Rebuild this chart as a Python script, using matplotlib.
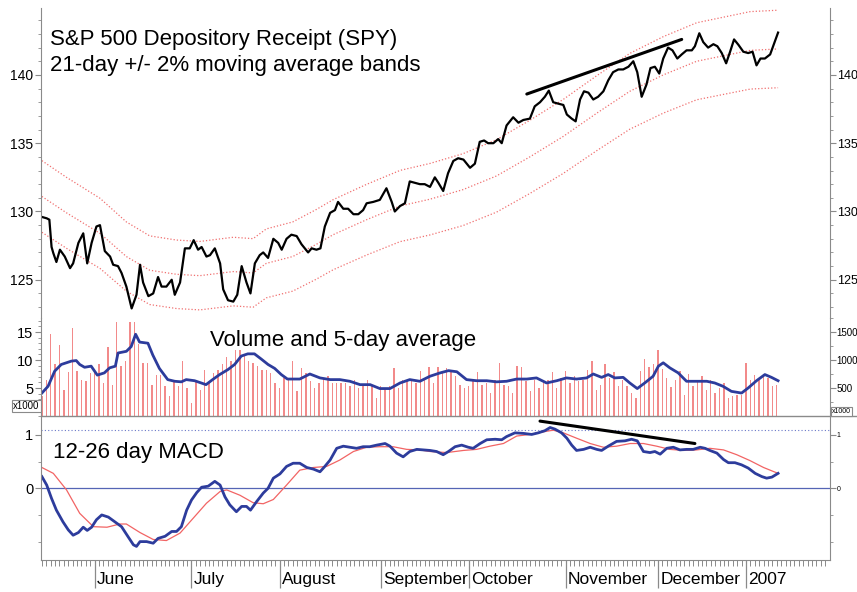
import numpy as np
import matplotlib
matplotlib.use("Agg")
import matplotlib.pyplot as plt
from matplotlib.ticker import MultipleLocator, FixedLocator
from matplotlib.lines import Line2D

plt.rcParams["font.family"] = ["Liberation Sans", "DejaVu Sans"]

# x is the trading-day index, day 0 = 15 May 2006
price_day = [0, 1.1, 1.7, 2.2, 2.6, 3.3, 4.1, 5.2, 6.4, 7.1, 8.3, 9.4, 10.3, 11.3, 12.4, 13.2,
             14.3, 15.5, 16.2, 17.3, 18.1, 19.2, 20.4, 21.5, 22.3, 23.0, 24.2, 25.3, 26.4, 27.2,
             28.3, 29.5, 30.2, 31.4, 32.5, 33.6, 34.5, 35.5, 36.3, 37.4, 38.2, 39.3, 40.5, 41.2,
             42.3, 43.5, 44.4, 45.4, 46.5, 47.4, 48.4, 49.5, 50.3, 51.4, 52.6, 53.7, 54.5, 55.6,
             56.7, 57.9, 59.0, 60.5, 61.3, 62.4, 63.3, 64.3, 65.5, 66.6, 67.3, 68.5, 69.6, 70.8,
             71.9, 73.0, 73.8, 75.3, 76.8, 78.3, 79.5, 80.2, 81.4, 82.5, 83.6, 84.8, 85.9, 87.0,
             88.2, 89.3, 90.1, 91.2, 92.3, 93.5, 94.6, 95.8, 97.3, 98.4, 99.5, 100.5, 101.4, 102.6,
             103.7, 104.5, 105.6, 107.1, 108.3, 109.4, 110.9, 112.0, 113.2, 114.3, 115.2, 116.2,
             117.3, 118.5, 119.3, 120.4, 121.3, 122.3, 123.2, 124.2, 125.3, 126.4, 127.6, 128.7,
             129.8, 131.0, 132.1, 133.3, 134.4, 135.3, 136.3, 137.4, 138.3, 139.3, 140.3, 141.2,
             142.3, 143.3, 144.4, 145.4, 146.5, 147.7, 148.4, 149.4, 150.3, 151.4, 152.6, 153.5,
             154.5, 155.5, 156.4, 157.3, 158.3, 159.4, 160.5, 161.5, 162.4, 163.3, 164.3, 165.5,
             166.4, 167.3]
price_close = [129.6, 129.5, 129.4, 127.4, 126.95, 126.3, 127.2, 126.7, 125.85, 126.2,
               127.7, 128.4, 126.2, 127.7, 128.9, 129.0, 127.1, 126.7, 126.1, 126.0,
               125.5, 124.5, 122.9, 123.9, 126.1, 124.8, 123.8, 124.0, 125.2, 124.5,
               124.5, 125.0, 123.9, 124.8, 127.3, 127.3, 127.9, 127.2, 127.4, 126.7,
               126.8, 127.3, 126.2, 124.3, 123.5, 123.4, 123.9, 126.0, 124.8, 124.0,
               126.2, 126.8, 127.0, 126.6, 128.0, 127.7, 127.2, 128.0, 128.3, 128.2,
               127.6, 127.0, 127.3, 127.2, 127.3, 128.9, 129.9, 130.1, 130.7, 130.2,
               130.2, 129.8, 129.8, 130.1, 130.6, 130.7, 130.85, 131.7, 130.7, 130.0,
               130.4, 130.6, 132.2, 132.1, 132.0, 132.0,
               131.8, 132.5, 132.1, 131.5, 132.8, 133.7, 133.9, 133.8, 133.2, 133.5,
               135.1, 135.2, 135.0, 135.0, 135.3, 135.0, 136.3, 136.9, 136.5, 136.7,
               136.8, 137.7, 138.0, 138.4, 138.85, 138.0, 137.9, 137.8, 137.1, 136.8,
               136.6, 138.2, 138.8, 138.7, 138.2, 138.4, 138.8, 139.6, 140.2, 140.4,
               140.4, 140.6, 141.0, 140.2, 138.4, 139.3, 140.5, 140.6, 140.1, 141.2,
               142.0, 141.8, 141.2, 141.5, 141.8, 141.8, 142.1, 143.05, 142.4, 142.0,
               142.25, 142.1, 141.6, 140.85, 141.7, 142.6, 142.2, 141.7, 141.6, 141.7,
               140.7, 141.2, 141.2, 141.5, 142.3, 143.1]

# 21-day moving average (centre band)
ma_day = [0, 5.6, 13.2, 19.2, 24.5, 30.6, 35.9, 43.5, 48, 51, 57, 62.4, 66.2, 73.8, 81.4,
          88.2, 95.7, 103.3, 110.9, 118.5, 126.1, 133.6, 141.2, 148.8, 156.4, 161, 167.3]
ma21 = [131.1, 129.9, 128.4, 126.7, 125.7, 125.4, 125.3, 125.6, 125.5, 126.2, 126.7, 127.6,
        128.3, 129.4, 130.4, 130.9, 131.6, 132.6, 134.0, 135.5, 137.2, 138.8, 140.0, 141.0,
        141.5, 141.8, 141.9]
band_pct = 0.02

# daily volume, millions of shares (one value per trading day from day 0)
volume = [3.5, 6.5, 14.6, 9.2, 12.6, 4.7, 7.9, 15.7, 8.1, 6.5, 6.3, 7.7, 7.9, 9.2, 5.9, 12.4,
          5.6, 16.8, 8.9, 9.8, 16.7, 16.7, 12.9, 9.5, 9.5, 5.6, 7.4, 7.3, 5.3, 3.5, 6.5, 5.3,
          9.9, 5.0, 2.3, 6.1, 4.7, 8.3, 5.9, 7.7, 8.3, 9.2, 10.5, 9.8, 11.7, 11.7, 10.8, 9.8,
          9.4, 8.9, 8.3, 8.3, 7.7, 5.9, 5.0, 6.8,
          6.5, 9.8, 4.4, 8.6, 7.7, 6.2, 5.0, 5.9, 6.8, 7.1, 5.9, 5.9, 5.9, 5.9, 5.3, 6.5,
          5.0, 5.3, 6.5, 5.6, 3.2, 5.3, 5.0, 5.3, 8.6, 5.0, 6.5, 6.5, 6.2, 5.9, 8.0, 6.5,
          8.7, 5.9, 8.7, 8.0, 8.6, 8.0, 7.1, 5.6, 5.0, 5.3, 6.5, 7.9, 5.6, 5.9, 4.1, 6.5,
          9.5, 5.6, 5.3, 4.1, 8.9, 8.7, 6.2,
          4.4, 6.5, 5.0, 6.5, 6.5, 7.9, 5.0, 6.8, 8.0, 5.9, 7.1, 6.2, 6.5, 8.3, 9.8, 4.7,
          5.6, 9.2, 6.7, 7.9, 5.3, 6.5, 5.3, 4.1, 3.2, 8.0, 10.2, 8.7, 9.2, 11.7, 8.45, 6.8,
          5.2, 6.5, 8.1, 3.7, 7.5, 5.3, 6.2, 7.1, 4.7, 6.5, 4.1, 5.0, 5.9, 3.2, 3.5, 3.7,
          3.7, 9.5, 6.5, 7.3, 6.5, 7.1, 6.8, 5.3, 5.6]

va_day = [0, 1.4, 2.9, 4.4, 6.7, 7.8, 8.6, 9.7, 11.2, 12.6, 14.2, 15.4, 16.7, 17.3, 19.2, 20.3,
          21.3, 22.2, 24.1, 25.2, 26.7, 28.6, 30.2, 31.7, 32.8, 34.7, 36.2, 37.3, 38.8, 40.4,
          42.3, 43.8, 45.3, 46.8, 48.3, 49.8, 51.4, 52.9, 54.4, 55.8, 58.6, 60.9, 63.2, 65.5,
          67.7, 70, 72.3, 74.6, 76.8, 79.1, 81.4, 83.6, 85.9, 88.2, 90.5, 92.4, 94.3, 96.5,
          98.8, 101.1, 103.3, 105.6, 107.9, 110.2, 112.4, 114.7, 117, 119.2, 121.5, 123.8,
          125.3, 127.2, 128.7, 130.2, 132.1, 133.6, 135.3, 137, 138.9, 140.1, 141.2, 142.7,
          144.6, 146.5, 148.8, 151.1, 152.9, 154.8, 156.7, 159, 160.5, 162.4, 164.3, 165.8, 167.3]
vol_avg5 = [4.1, 5.3, 8.0, 9.2, 9.8, 9.9, 9.2, 8.7, 8.9, 7.3, 7.7, 8.6, 8.9, 11.25, 11.55, 12.4,
            14.6, 13.2, 13.0, 10.9, 8.5, 6.5, 6.2, 6.1, 6.5, 6.3, 5.9, 5.6, 6.5, 7.4, 8.3, 9.2,
            10.7, 11.1, 11.1, 10.2, 9.2, 8.5, 7.4, 6.6, 6.6, 7.5, 6.8, 6.5, 6.5, 6.2, 5.6, 5.6,
            4.9, 4.9, 5.9, 6.5, 6.2, 7.1, 7.7, 8.1, 7.9, 6.5, 6.3, 6.3, 6.1, 6.2, 6.6, 6.6,
            6.8, 5.9, 6.3, 6.8, 6.6, 6.8, 7.5, 6.9, 7.4, 6.8, 6.9, 5.9, 4.9, 5.9, 7.1, 8.9,
            9.5, 8.6, 7.7, 6.2, 6.2, 6.2, 5.9, 5.3, 4.4, 4.1, 5.0, 6.3, 7.4, 6.9, 6.3]

macd_day = [0, 1.1, 2.2, 3.3, 4.8, 6.0, 7.1, 8.3, 9.4, 10.3, 11.3, 12.4, 13.6, 15.1, 16.6, 18.1,
            19.6, 20.8, 21.5, 22.3, 23.8, 25.3, 26.4, 28.0, 29.5, 30.6, 31.7, 32.9, 34.0, 35.2,
            36.3, 37.8, 39.3, 40.5, 41.6, 42.7, 44.2, 45.4, 46.5, 47.4, 48.8, 50.3, 51.4, 52.6,
            54.1, 55.6, 57.1, 58.6, 60.2, 61.7, 63.2, 64.3, 65.5, 67.0, 68.5, 70.0, 71.5, 73.0,
            74.5, 76.1, 78.0, 79.1, 80.6, 82.1, 83.6, 85.2, 86.7, 88.2, 89.7, 91.2, 92.4, 93.9,
            95.4, 96.9, 98.0, 99.6, 101.1, 103.0, 104.5, 105.6, 107.5, 109.4, 111.3, 112.8,
            114.3, 115.5, 116.6, 118.1, 119.3, 120.4, 121.5, 123.1, 124.6, 126.1, 127.2, 128.7,
            130.6, 132.5, 134.0, 135.3, 136.7, 138.2, 139.3, 140.5, 142.0, 143.5, 145.0, 146.5,
            148.0, 149.6, 150.7, 151.8, 153.4, 154.9, 156.0, 157.5, 159.0, 160.5, 162.1, 163.6,
            164.7, 165.9, 167.3]
macd = [0.22, 0.06, -0.19, -0.41, -0.63, -0.78, -0.88, -0.83, -0.73, -0.79, -0.73, -0.59,
        -0.50, -0.54, -0.63, -0.72, -0.91, -1.06, -1.09, -1.0, -1.0, -1.03, -0.94, -0.9,
        -0.81, -0.81, -0.72, -0.41, -0.22, -0.08, 0.02, 0.04, 0.13, 0.06, -0.16, -0.31,
        -0.44, -0.34, -0.34, -0.41, -0.25, -0.09, 0.0, 0.19, 0.27, 0.41, 0.47, 0.47, 0.39,
        0.36, 0.31, 0.41, 0.53, 0.75, 0.79, 0.77, 0.75, 0.78, 0.78, 0.81, 0.84, 0.79, 0.66,
        0.59, 0.69, 0.73, 0.72, 0.71, 0.69, 0.63, 0.69, 0.78, 0.81, 0.77, 0.75, 0.84, 0.91,
        0.92, 0.91, 0.97, 1.04, 1.03, 1.01, 1.04, 1.08, 1.14, 1.11, 1.04, 0.94, 0.81, 0.71,
        0.73, 0.77, 0.73, 0.71, 0.79, 0.88, 0.89, 0.92, 0.89, 0.69, 0.67, 0.69, 0.64, 0.75,
        0.77, 0.72, 0.73, 0.73, 0.77, 0.75, 0.71, 0.66, 0.54, 0.48, 0.48, 0.44, 0.38, 0.28,
        0.22, 0.19, 0.21, 0.28]

signal_day = [0, 2.6, 5.6, 8.6, 11.7, 14.8, 17.7, 19.2, 22.3, 25.3, 28.3, 31.4, 34.4, 37.4,
              40.5, 42.0, 45.0, 48.0, 50.3, 52.6, 55.6, 58.6, 61.7, 64.7, 67.7, 70.8, 73.8,
              76.8, 79.8, 82.9, 85.9, 88.2, 92.0, 95.8, 98.8, 101.8, 104.9, 107.9, 110.9,
              114.0, 116.2, 118.5, 121.5, 124.6, 127.6, 130.6, 133.7, 136.7, 139.7, 142.7,
              145.8, 148.8, 151.8, 154.9, 157.9, 160.9, 164.0, 167.3]
signal = [0.39, 0.28, -0.03, -0.47, -0.72, -0.73, -0.67, -0.67, -0.83, -0.96, -0.98, -0.84,
          -0.56, -0.28, -0.06, -0.03, -0.13, -0.27, -0.29, -0.21, 0.06, 0.34, 0.39, 0.41,
          0.53, 0.69, 0.77, 0.78, 0.78, 0.73, 0.72, 0.69, 0.67, 0.71, 0.73, 0.79, 0.84, 0.98,
          1.01, 1.06, 1.09, 1.04, 0.94, 0.84, 0.77, 0.79, 0.84, 0.84, 0.79, 0.73, 0.71, 0.72,
          0.75, 0.72, 0.63, 0.52, 0.39, 0.28]

# hand-drawn trend lines
price_trend_day = [110.2, 145.4]
price_trend = [138.6, 142.6]
macd_trend_day = [113.2, 148.4]
macd_trend = [1.26, 0.84]

month_start = [12, 34, 54, 77, 97, 119, 140, 160]
month_names = ["June", "July", "August", "September", "October", "November", "December", "2007"]

GREY = "#8a8a8a"
RED = "#f07070"
BLUE = "#2d3c9c"

fig = plt.figure(figsize=(8.57, 5.92), dpi=100)
W, H = 857, 592


def panel(top, bottom):
    ax = fig.add_axes([41 / W, 1 - bottom / H, 789 / W, (bottom - top) / H])
    ax.set_xlim(-0.2, 179.1)
    ax.spines["top"].set_visible(False)
    ax.spines["bottom"].set_visible(False)
    ax.spines["right"].set_visible(False)
    ax.spines["left"].set_color(GREY)
    ax.tick_params(axis="x", which="both", bottom=False, labelbottom=False)
    ax.tick_params(axis="y", which="both", direction="out", color=GREY, labelcolor="black",
                   left=True, right=False, pad=1.5)
    ax.tick_params(axis="y", which="major", length=4)
    ax.tick_params(axis="y", which="minor", length=2.5)
    ax.patch.set_alpha(0)
    return ax


def right_axis(ax, ticks, labels, minor, size):
    sec = ax.secondary_yaxis("right")
    sec.set_yticks(ticks, labels=labels)
    sec.yaxis.set_minor_locator(minor)
    sec.tick_params(axis="y", which="both", color=GREY, labelsize=size, pad=0.8)
    sec.tick_params(axis="y", which="major", length=4)
    sec.tick_params(axis="y", which="minor", length=2.5)
    sec.spines["right"].set_color(GREY)
    return sec


ax_p = panel(8, 318)
ax_v = panel(318, 416)
ax_m = panel(416, 560)

# price panel
ma = np.array(ma21)
for band in (ma * (1 + band_pct), ma, ma * (1 - band_pct)):
    ax_p.plot(ma_day, band, color=RED, lw=0.9, ls=(0, (1, 1.6)))
ax_p.plot(price_day, price_close, color="black", lw=1.6)
ax_p.plot(price_trend_day, price_trend, color="black", lw=2.2, solid_capstyle="round")
ax_p.set_ylim(122.2, 144.9)
ax_p.yaxis.set_major_locator(FixedLocator([125, 130, 135, 140]))
ax_p.yaxis.set_minor_locator(MultipleLocator(1))
ax_p.tick_params(axis="y", labelsize=10)
right_axis(ax_p, [125, 130, 135, 140], ["125", "130", "135", "140"], MultipleLocator(1), 9)

# volume panel
ax_v.bar(np.arange(len(volume)), volume, width=0.32, color="#f28a8a", linewidth=0)
ax_v.plot(va_day, vol_avg5, color=BLUE, lw=2.0)
ax_v.set_ylim(0, 17.5)
ax_v.yaxis.set_major_locator(FixedLocator([5, 10, 15]))
ax_v.yaxis.set_minor_locator(MultipleLocator(1))
ax_v.tick_params(axis="y", labelsize=10.5)
right_axis(ax_v, [5, 10, 15], ["500", "1000", "1500"], MultipleLocator(2.5), 7)

# MACD panel
ax_m.axhline(0, color="#5565b5", lw=0.9)
ax_m.axhline(1.09, color="#6a78c8", lw=0.8, ls=(0, (1, 2)))
ax_m.plot(signal_day, signal, color="#f26464", lw=0.9)
ax_m.plot(macd_day, macd, color=BLUE, lw=2.0)
ax_m.plot(macd_trend_day, macd_trend, color="black", lw=2.2, solid_capstyle="round")
ax_m.set_ylim(-1.345, 1.356)
ax_m.yaxis.set_major_locator(FixedLocator([0, 1]))
ax_m.yaxis.set_minor_locator(FixedLocator([-1, -0.5, 0.5]))
ax_m.tick_params(axis="y", labelsize=10.5)
right_axis(ax_m, [0, 1], ["0", "1"], FixedLocator([-1, -0.5, 0.5]), 5)

# bottom date axis
ax_m.spines["bottom"].set_visible(True)
ax_m.spines["bottom"].set_color(GREY)
ax_m.xaxis.set_major_locator(FixedLocator(month_start))
ax_m.xaxis.set_minor_locator(FixedLocator(np.arange(0, 179)))
ax_m.tick_params(axis="x", which="both", bottom=True, labelbottom=False, direction="out",
                 color=GREY)
ax_m.tick_params(axis="x", which="major", length=20, width=0.9)
ax_m.tick_params(axis="x", which="minor", length=4.5, width=0.7)
for day, name in zip(month_start, month_names):
    ax_m.text(day + 0.5, -0.165, name, transform=ax_m.get_xaxis_transform(),
              ha="left", va="baseline", fontsize=12.5)

# separator between volume and MACD panels
fig.add_artist(Line2D([41 / W, 1.0], [1 - 416 / H] * 2, color=GREY, lw=1.0))

# scale boxes
box = dict(boxstyle="square,pad=0.15", fc="white", ec=GREY, lw=0.8)
fig.text(13 / W, 1 - 409 / H, "x1000", fontsize=7, va="baseline", bbox=box)
fig.text(832 / W, 1 - 413 / H, "x1000", fontsize=5, va="baseline", bbox=box)

# titles
fig.text(50 / W, 1 - 45 / H, "S&P 500 Depository Receipt (SPY)", fontsize=16, va="baseline")
fig.text(50 / W, 1 - 71 / H, "21-day +/- 2% moving average bands", fontsize=16, va="baseline")
fig.text(210 / W, 1 - 346 / H, "Volume and 5-day average", fontsize=16, va="baseline")
fig.text(53 / W, 1 - 458 / H, "12-26 day MACD", fontsize=16, va="baseline")

fig.savefig("out.png", dpi=100)
